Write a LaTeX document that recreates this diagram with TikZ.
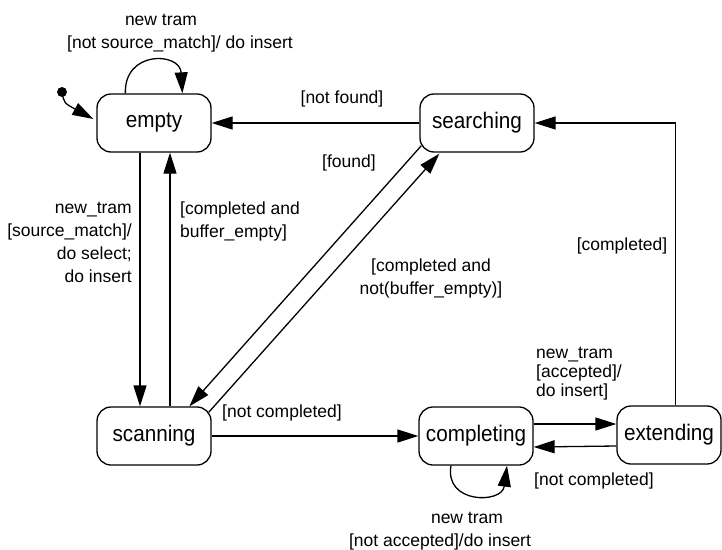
\documentclass[tikz,border=0pt]{standalone}
\usepackage{fontspec}
\setmainfont{Liberation Sans}
\newfontfamily\statefont{Liberation Sans}[FakeStretch=0.92]
\usetikzlibrary{arrows.meta,calc}

\begin{document}
\begin{tikzpicture}[x=1pt,y=-1pt,
  state/.style={draw, rounded corners=14pt, line width=1.3pt,
    minimum width=114pt, minimum height=58pt, inner sep=0pt,
    font=\statefont\fontsize{22.5}{26}\selectfont},
  trans/.style={line width=1.3pt, -{Triangle[length=21pt,width=13pt]}},
  lbl/.style={inner sep=0pt, font=\fontsize{17.5}{23}\selectfont},
]
\useasboundingbox (0,0) rectangle (722,549);

% states
\node[state] (empty)      at (154,123) {empty};
\node[state] (searching)  at (477,123) {searching};
\node[state] (scanning)   at (154,436) {scanning};
\node[state] (completing) at (476,436) {completing};
\node[state, minimum width=104pt] (extending) at (669,435) {extending};

% initial pseudo-state
\fill (62,92) circle (5pt) coordinate (init);
\draw[trans] (init) .. controls (64,103) .. ([xshift=-3pt,yshift=4pt]empty.west);

% empty: self loop
\draw[trans] ([xshift=29pt]empty.north west)
  .. controls (124,50) and (180,52) .. ([xshift=86pt]empty.north west);

% searching -> empty
\draw[trans] (searching.west) -- (empty.east);

% extending -> searching
\draw[trans, line width=1.1pt] ([xshift=59pt]extending.north west) |- (searching.east);

% empty <-> scanning
\draw[trans] ([xshift=-14pt]empty.south) -- ([xshift=-14pt]scanning.north);
\draw[trans] ([xshift=16pt]scanning.north) -- ([xshift=16pt]empty.south);

% searching <-> scanning (diagonals)
\draw[trans] ([xshift=2pt,yshift=7pt]searching.south west) -- ([xshift=93pt]scanning.north west);
\draw[trans] ([xshift=-3pt,yshift=-6pt]scanning.north east) -- ([xshift=20pt,yshift=-1pt]searching.south west);

% scanning -> completing
\draw[trans] (scanning.east) -- (completing.west);

% completing <-> extending
\draw[trans] ([yshift=12pt]completing.east) -- ([yshift=11pt]extending.west);
\draw[trans] ([yshift=-11pt]extending.west) -- ([yshift=-11pt]completing.east);

% completing: self loop
\draw[trans] ([xshift=-25pt]completing.south)
  .. controls (444,504) and (502,504) .. ([xshift=31pt]completing.south);

% transition labels
\node[lbl, align=center] (l1) at (180,33) {new tram\hspace*{38pt}\\{}{[not source\_match]/ do insert}};
\node[lbl] (l2) at (342,99) {[not found]};
\node[lbl] (l3) at (349,163) {[found]};
\node[lbl, align=right, anchor=east] (l4) at (132,242)
  {new\_tram\\{}{[source\_match]/}\\do select;\\do insert};
\node[lbl, align=left, anchor=west] (l5) at (180,221)
  {[completed and\\buffer\_empty]};
\node[lbl, align=center] (l6) at (431,278)
  {[completed and\\not(buffer\_empty)]};
\node[lbl] (l7) at (622,246) {[completed]};
\node[lbl] (l8) at (282,413) {[not completed]};
\node[lbl, align=left, anchor=west, font=\fontsize{17.5}{19}\selectfont] (l9) at (536,374)
  {new\_tram\\{}{[accepted]/}\\do insert]};
\node[lbl] (l10) at (594,481) {[not completed]};
\node[lbl, align=center] (l11) at (440,531)
  {\hspace*{54pt}new tram\\{}{[not accepted]/do insert}};
\end{tikzpicture}
\end{document}
